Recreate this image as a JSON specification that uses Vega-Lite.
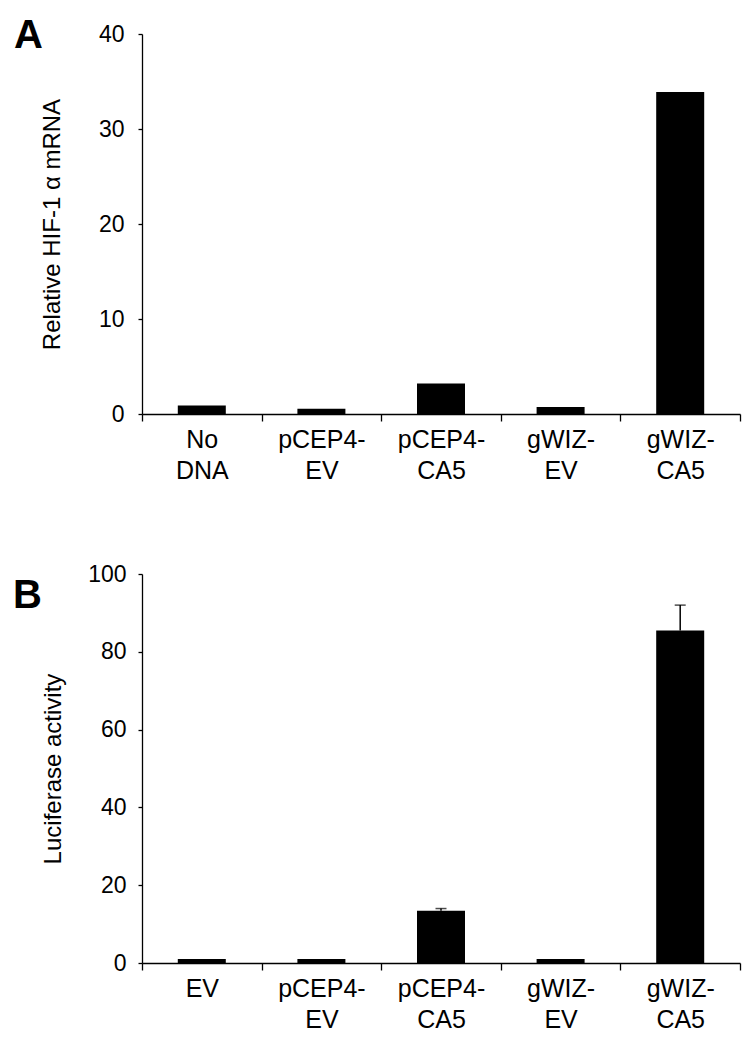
{
  "$schema": "https://vega.github.io/schema/vega-lite/v6.json",
  "padding": {"left": 13, "top": 16, "right": 5, "bottom": 5},
  "spacing": 80,
  "config": {
    "view": {"stroke": null},
    "font": "Liberation Sans",
    "axis": {
      "domainColor": "black", "domainWidth": 1.3, "tickColor": "black", "tickWidth": 1.3,
      "labelColor": "black", "titleColor": "black", "labelFont": "Liberation Sans", "titleFont": "Liberation Sans",
      "titleFontWeight": "normal", "grid": false
    },
    "title": {"font": "Liberation Sans", "fontWeight": "bold", "fontSize": 40, "color": "black", "anchor": "start", "frame": "group"}
  },
  "datasets": {
    "a": [
      {"group": "No DNA", "value": 0.9},
      {"group": "pCEP4-EV", "value": 0.55},
      {"group": "pCEP4-CA5", "value": 3.2},
      {"group": "gWIZ-EV", "value": 0.75},
      {"group": "gWIZ-CA5", "value": 33.9}
    ],
    "b": [
      {"group": "EV", "value": 1.0, "upper": null},
      {"group": "pCEP4-EV", "value": 1.0, "upper": null},
      {"group": "pCEP4-CA5", "value": 13.4, "upper": 14.0},
      {"group": "gWIZ-EV", "value": 1.0, "upper": null},
      {"group": "gWIZ-CA5", "value": 85.5, "upper": 92.0}
    ]
  },
  "vconcat": [
    {
      "width": 598, "height": 380,
      "title": {"text": "A", "dx": -128, "offset": -65, "baseline": "alphabetic"},
      "data": {"name": "a"},
      "mark": {"type": "bar", "color": "black", "size": 48},
      "encoding": {
        "x": {"field": "group", "type": "nominal", "sort": null, "title": null,
              "scale": {"paddingInner": 0, "paddingOuter": 0},
              "axis": {"labelAngle": 0, "tickBand": "extent", "tickSize": 7, "labelPadding": 6, "labelFontSize": 25, "labelLineHeight": 31,
                       "labelExpr": "split(replace(replace(datum.label, ' ', '|'), '-', '-|'), '|')"}},
        "y": {"field": "value", "type": "quantitative", "scale": {"domain": [0, 40]}, "title": "Relative HIF-1 α mRNA",
              "axis": {"values": [0, 10, 20, 30, 40], "tickSize": 4, "labelPadding": 14, "labelFontSize": 23, "titleFontSize": 24, "titlePadding": 34}}
      }
    },
    {
      "width": 598, "height": 389,
      "title": {"text": "B", "dx": -129, "offset": -85, "baseline": "alphabetic"},
      "data": {"name": "b"},
      "encoding": {
        "x": {"field": "group", "type": "nominal", "sort": null, "title": null,
              "scale": {"paddingInner": 0, "paddingOuter": 0},
              "axis": {"labelAngle": 0, "tickBand": "extent", "tickSize": 7, "labelPadding": 6, "labelFontSize": 25, "labelLineHeight": 31,
                       "labelExpr": "split(replace(replace(datum.label, ' ', '|'), '-', '-|'), '|')"}}
      },
      "layer": [
        {
          "mark": {"type": "bar", "color": "black", "size": 48},
          "encoding": {
            "y": {"field": "value", "type": "quantitative", "scale": {"domain": [0, 100]}, "title": "Luciferase activity",
                  "axis": {"values": [0, 20, 40, 60, 80, 100], "tickSize": 4, "labelPadding": 12, "labelFontSize": 23, "titleFontSize": 24, "titlePadding": 22}}
          }
        },
        {
          "transform": [{"filter": "datum.upper != null"}],
          "mark": {"type": "rule", "color": "black", "strokeWidth": 1.5},
          "encoding": {"y": {"field": "value", "type": "quantitative"}, "y2": {"field": "upper"}}
        },
        {
          "transform": [{"filter": "datum.upper != null"}],
          "mark": {"type": "tick", "color": "black", "size": 11, "thickness": 1.5},
          "encoding": {"y": {"field": "upper", "type": "quantitative"}}
        }
      ]
    }
  ]
}
